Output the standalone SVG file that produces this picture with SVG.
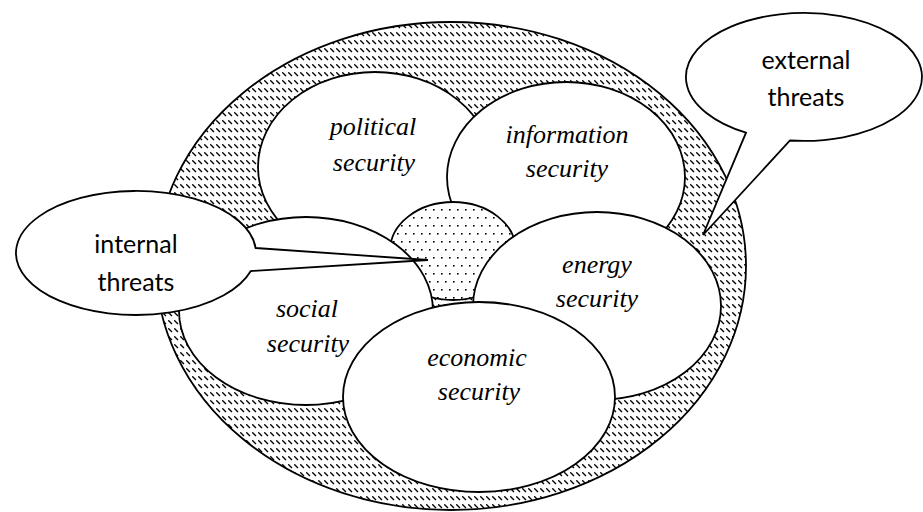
<svg xmlns="http://www.w3.org/2000/svg" width="923" height="512" viewBox="0 0 923 512">
<defs>
<pattern id="hatch" patternUnits="userSpaceOnUse" width="6" height="8">
<rect width="6" height="8" fill="#fff"/>
<path d="M0.3,0.3 L4,4" stroke="#000" stroke-width="1.3"/>
</pattern>
<pattern id="dots" patternUnits="userSpaceOnUse" width="8" height="16">
<rect width="8" height="16" fill="#fff"/>
<rect x="1" y="1" width="1.6" height="1.6" fill="#000"/>
<rect x="5" y="9" width="1.6" height="1.6" fill="#000"/>
</pattern>
<style>
.s{stroke:#000;stroke-width:1.8;fill:#fff}
.lab{font-family:"Liberation Serif","Times New Roman",serif;font-style:italic;font-size:26px;fill:#000;text-anchor:middle}
.cl{font-family:Lato,"Open Sans",sans-serif;font-size:25px;fill:#000;text-anchor:middle}
</style>
</defs>
<rect width="923" height="512" fill="#fff"/>
<g id="outer"><ellipse class="s" cx="451" cy="266" rx="295" ry="244" style="fill:url(#hatch)"/></g>
<g id="political"><ellipse class="s" cx="375" cy="167" rx="117" ry="95"/>
<text class="lab" x="373" y="135">political</text><text class="lab" x="374" y="171">security</text></g>
<g id="information"><ellipse class="s" cx="566" cy="177" rx="119" ry="95"/>
<text class="lab" x="567" y="143">information</text><text class="lab" x="567" y="177">security</text></g>
<g id="core"><ellipse class="s" cx="453" cy="251" rx="63" ry="49" style="fill:url(#dots)"/></g>
<g id="social"><ellipse class="s" cx="306" cy="311" rx="127" ry="94"/>
<text class="lab" x="307" y="317">social</text><text class="lab" x="308" y="352">security</text></g>
<g id="energy"><ellipse class="s" cx="597" cy="306" rx="124" ry="94"/>
<text class="lab" x="597" y="273">energy</text><text class="lab" x="597" y="307">security</text></g>
<g id="economic"><ellipse class="s" cx="479" cy="397" rx="136" ry="95"/>
<text class="lab" x="477" y="366">economic</text><text class="lab" x="479" y="400">security</text></g>
<g id="connectors">
<path id="internal-callout" class="s" d="M255.6,248 L428,260 L250.8,271 A120,62 0 1 1 255.6,248 Z"/>
<path id="external-callout" class="s" d="M746,132.7 A118,64 0 1 1 790,140.5 L703,235 Z"/>
</g>
<g id="internal"><text class="cl" x="136" y="253">internal</text><text class="cl" x="136" y="291">threats</text></g>
<g id="external"><text class="cl" x="806" y="69">external</text><text class="cl" x="806" y="106">threats</text></g>
</svg>
